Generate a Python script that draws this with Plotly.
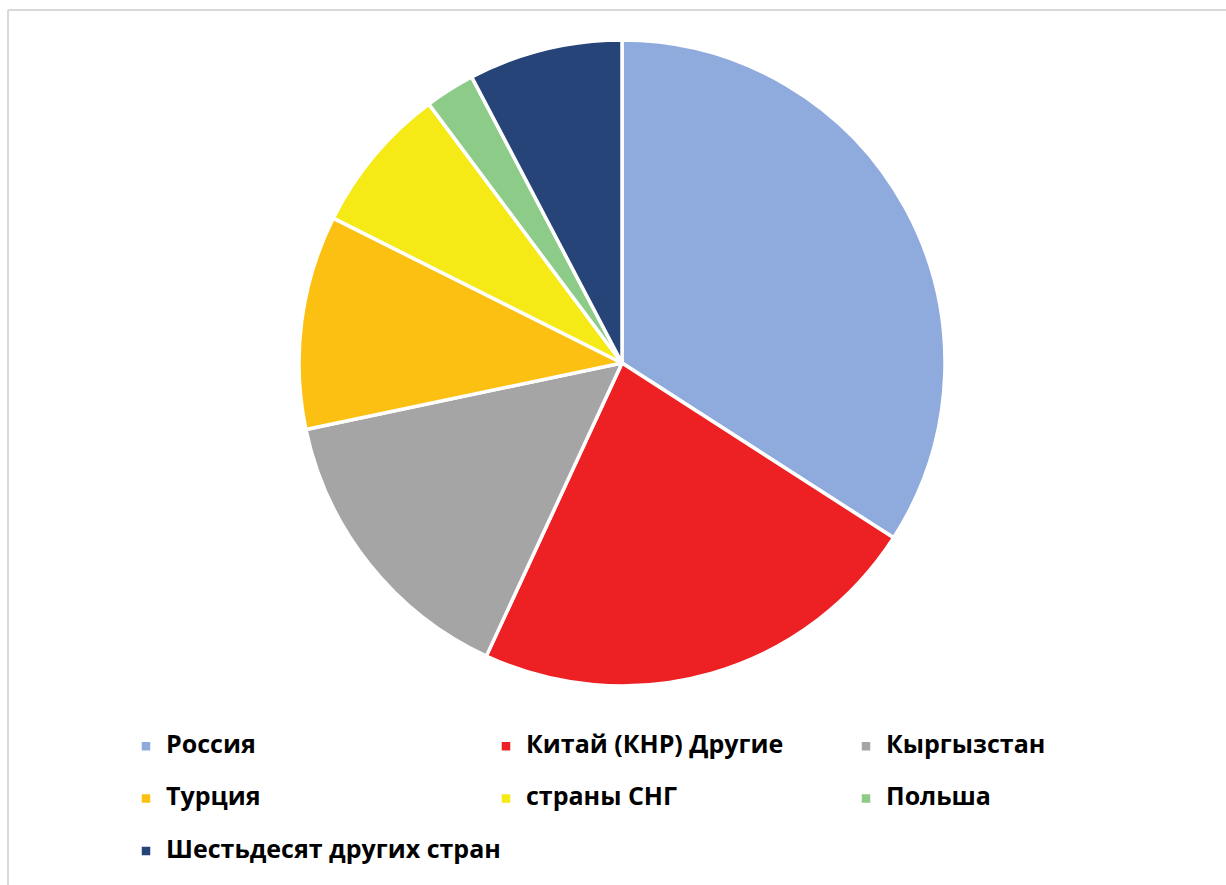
import plotly.graph_objects as go

labels = ["Россия", "Китай (КНР) Другие", "Кыргызстан", "Турция",
          "страны СНГ", "Польша", "Шестьдесят других стран"]
values = [34.1, 22.8, 14.8, 10.7, 7.4, 2.5, 7.7]
colors = ["#8FAADC", "#ED2024", "#A5A5A5", "#FCC012",
          "#F5E916", "#8DCB88", "#264478"]

W, H = 1226, 885
legend_labels = [f'<span style="font-size:25px;baseline-shift:8px">{t}</span>' for t in labels]

fig = go.Figure(go.Pie(
    labels=legend_labels,
    values=values,
    sort=False,
    direction="clockwise",
    rotation=0,
    textinfo="none",
    marker=dict(colors=colors, line=dict(color="white", width=3.5)),
    domain=dict(x=[299 / W, 945 / W], y=[(H - 686) / H, (H - 40) / H]),
    hoverinfo="label+percent",
))

fig.update_layout(
    width=W, height=H,
    margin=dict(l=0, r=0, t=0, b=0),
    paper_bgcolor="white",
    plot_bgcolor="white",
    showlegend=True,
    legend=dict(
        orientation="h",
        x=126 / W, xanchor="left",
        y=(H - 715) / H, yanchor="top",
        font=dict(family="Open Sans", size=38, color="black", weight="bold"),
        entrywidth=315, entrywidthmode="pixels",
        bgcolor="rgba(0,0,0,0)",
    ),
    shapes=[
        dict(type="line", xref="paper", yref="paper", x0=8 / W, x1=1.01,
             y0=(H - 10) / H, y1=(H - 10) / H, line=dict(color="#D9D9D9", width=2)),
        dict(type="line", xref="paper", yref="paper", x0=8 / W, x1=8 / W,
             y0=-0.01, y1=(H - 10) / H, line=dict(color="#D9D9D9", width=2)),
    ],
)

fig.write_html("out.html")
